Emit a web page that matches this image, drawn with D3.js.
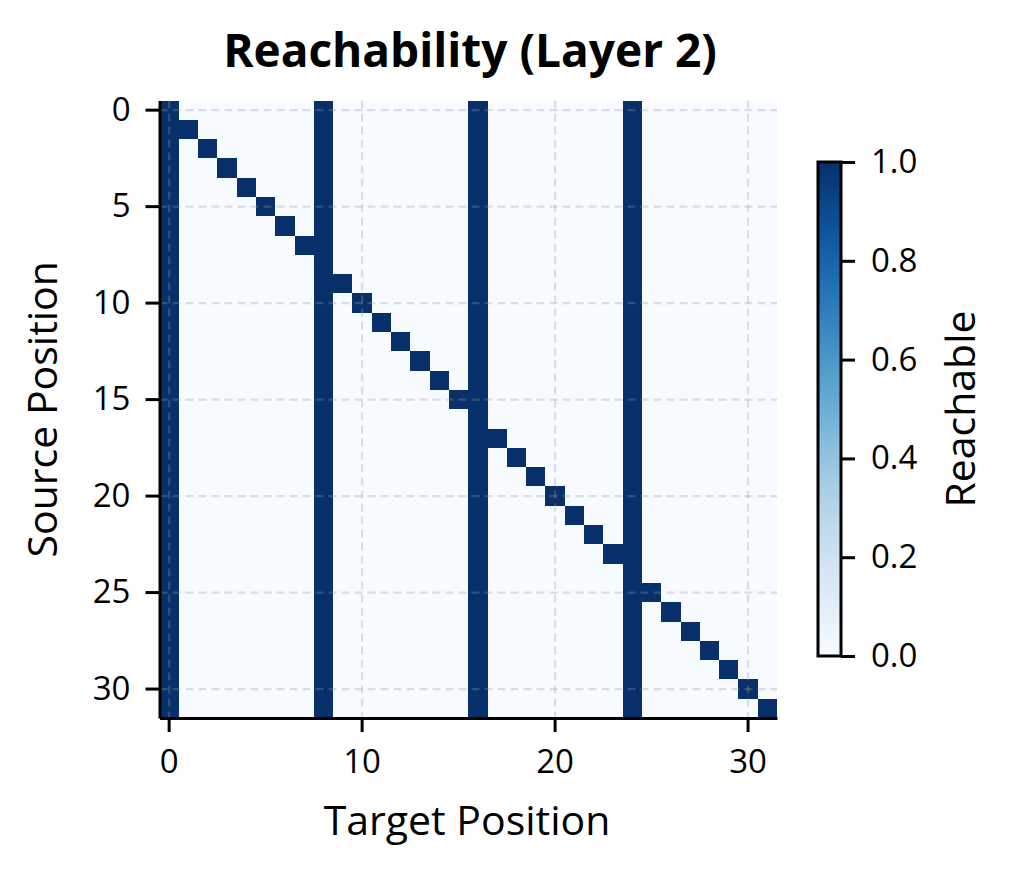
<!DOCTYPE html>
<html>
<head>
<meta charset="utf-8">
<script src="https://cdn.jsdelivr.net/npm/d3@7"></script>
<style>
  body { margin: 0; background: #fff; }
  text { font-family: "Open Sans", "Noto Sans", sans-serif; fill: #000; }
</style>
</head>
<body>
<svg id="chart" width="1010" height="874"></svg>
<script>
"use strict";

// Source/target positions along both axes
var positions = d3.range(32);

// One string per source row: '1' where the target column is reachable
var reachRows = [
    "10000000 10000000 10000000 10000000",
    "11000000 10000000 10000000 10000000",
    "10100000 10000000 10000000 10000000",
    "10010000 10000000 10000000 10000000",
    "10001000 10000000 10000000 10000000",
    "10000100 10000000 10000000 10000000",
    "10000010 10000000 10000000 10000000",
    "10000001 10000000 10000000 10000000",
    "10000000 10000000 10000000 10000000",
    "10000000 11000000 10000000 10000000",
    "10000000 10100000 10000000 10000000",
    "10000000 10010000 10000000 10000000",
    "10000000 10001000 10000000 10000000",
    "10000000 10000100 10000000 10000000",
    "10000000 10000010 10000000 10000000",
    "10000000 10000001 10000000 10000000",
    "10000000 10000000 10000000 10000000",
    "10000000 10000000 11000000 10000000",
    "10000000 10000000 10100000 10000000",
    "10000000 10000000 10010000 10000000",
    "10000000 10000000 10001000 10000000",
    "10000000 10000000 10000100 10000000",
    "10000000 10000000 10000010 10000000",
    "10000000 10000000 10000001 10000000",
    "10000000 10000000 10000000 10000000",
    "10000000 10000000 10000000 11000000",
    "10000000 10000000 10000000 10100000",
    "10000000 10000000 10000000 10010000",
    "10000000 10000000 10000000 10001000",
    "10000000 10000000 10000000 10000100",
    "10000000 10000000 10000000 10000010",
    "10000000 10000000 10000000 10000001"
];

var xTicks = [0, 10, 20, 30];
var yTicks = [0, 5, 10, 15, 20, 25, 30];
var colorbarTicks = [0, 0.2, 0.4, 0.6, 0.8, 1.0];

var title = "Reachability (Layer 2)";
var xLabel = "Target Position";
var yLabel = "Source Position";
var cbarLabel = "Reachable";

// Flatten rows into cells
var cells = [];
reachRows.forEach(function(row, r) {
    row.replace(/ /g, "").split("").forEach(function(ch, c) {
        cells.push({ source: r, target: c, value: +ch });
    });
});

var svg = d3.select("#chart");

// Plot area
var plot = { left: 159.5, right: 777, top: 100.5, bottom: 718 };
var tickLen = 14, lineW = 3, tickFont = 33, labelFont = 41;

var x = d3.scaleBand().domain(positions).range([plot.left, plot.right]).padding(0);
var y = d3.scaleBand().domain(positions).range([plot.top, plot.bottom]).padding(0);
var color = d3.scaleSequential(d3.interpolateBlues).domain([0, 1]);

var bw = x.bandwidth();
var bh = y.bandwidth();

// Heatmap cells
svg.append("g").attr("id", "cells")
    .selectAll("rect").data(cells).enter().append("rect")
    .attr("x", function(d) { return x(d.target); })
    .attr("y", function(d) { return y(d.source); })
    .attr("width", bw + 0.4).attr("height", bh + 0.4)
    .attr("fill", function(d) { return color(d.value); })
    .attr("shape-rendering", "crispEdges");

// Dashed grid on top of the cells
var grid = svg.append("g").attr("id", "grid")
    .attr("stroke", "#9a9a9a").attr("stroke-opacity", 0.3)
    .attr("stroke-width", 2.2).attr("stroke-dasharray", "8,5");
grid.selectAll("line.gx").data(xTicks).enter().append("line")
    .attr("x1", function(d) { return x(d) + bw / 2; })
    .attr("x2", function(d) { return x(d) + bw / 2; })
    .attr("y1", plot.top).attr("y2", plot.bottom);
grid.selectAll("line.gy").data(yTicks).enter().append("line")
    .attr("y1", function(d) { return y(d) + bh / 2; })
    .attr("y2", function(d) { return y(d) + bh / 2; })
    .attr("x1", plot.left).attr("x2", plot.right);

// Axes (left and bottom spines only)
var xAxis = d3.axisBottom(x).tickValues(xTicks).tickSize(tickLen).tickSizeOuter(0).tickPadding(18);
var yAxis = d3.axisLeft(y).tickValues(yTicks).tickSize(tickLen).tickSizeOuter(0).tickPadding(15);

var gx = svg.append("g").attr("transform", "translate(0," + plot.bottom + ")").call(xAxis);
var gy = svg.append("g").attr("transform", "translate(" + plot.left + ",0)").call(yAxis);

[gx, gy].forEach(function(g) {
    g.selectAll(".domain").attr("stroke", "#000").attr("stroke-width", lineW);
    g.selectAll(".tick line").attr("stroke", "#000").attr("stroke-width", lineW);
    g.selectAll(".tick text").attr("font-size", tickFont).attr("fill", "#000")
        .style("font-family", "'Open Sans', 'Noto Sans', sans-serif");
});

// Titles and labels
svg.append("text").attr("x", 470).attr("y", 67)
    .attr("text-anchor", "middle").attr("font-size", 46).attr("font-weight", "bold")
    .text(title);

svg.append("text").attr("x", 467).attr("y", 835)
    .attr("text-anchor", "middle").attr("font-size", labelFont)
    .text(xLabel);

svg.append("text")
    .attr("transform", "translate(57," + ((plot.top + plot.bottom) / 2) + ") rotate(-90)")
    .attr("text-anchor", "middle").attr("font-size", labelFont)
    .text(yLabel);

// Colorbar
var cb = { x: 818, w: 23, top: 162, bottom: 656 };
var cbScale = d3.scaleLinear().domain([0, 1]).range([cb.bottom, cb.top]);

var defs = svg.append("defs");
var grad = defs.append("linearGradient").attr("id", "cbgrad")
    .attr("x1", 0).attr("y1", 1).attr("x2", 0).attr("y2", 0);
d3.range(0, 1.0001, 0.05).forEach(function(t) {
    grad.append("stop").attr("offset", t).attr("stop-color", color(t));
});

svg.append("rect").attr("x", cb.x).attr("y", cb.top)
    .attr("width", cb.w).attr("height", cb.bottom - cb.top)
    .attr("fill", "url(#cbgrad)")
    .attr("stroke", "#000").attr("stroke-width", lineW);

var cbAxis = d3.axisRight(cbScale).tickValues(colorbarTicks).tickSize(tickLen).tickSizeOuter(0)
    .tickPadding(16).tickFormat(d3.format(".1f"));
var gcb = svg.append("g").attr("transform", "translate(" + (cb.x + cb.w) + ",0)").call(cbAxis);
gcb.select(".domain").remove();
gcb.selectAll(".tick line").attr("stroke", "#000").attr("stroke-width", lineW);
gcb.selectAll(".tick text").attr("font-size", tickFont).attr("fill", "#000")
    .style("font-family", "'Open Sans', 'Noto Sans', sans-serif");

svg.append("text")
    .attr("transform", "translate(975," + ((cb.top + cb.bottom) / 2) + ") rotate(-90)")
    .attr("text-anchor", "middle").attr("font-size", labelFont)
    .text(cbarLabel);
</script>
</body>
</html>
